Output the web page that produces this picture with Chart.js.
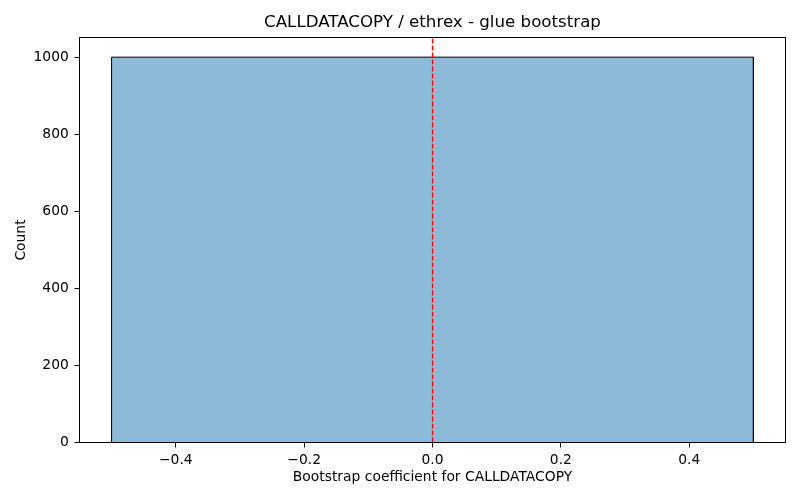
<!DOCTYPE html>
<html>
<head>
<meta charset="utf-8">
<script src="https://cdn.jsdelivr.net/npm/chart.js@4.4.1/dist/chart.umd.min.js"></script>
<style>
  html, body { margin: 0; padding: 0; background: #fff; }
  canvas { display: block; }
</style>
</head>
<body>
<canvas id="hist" width="800" height="500"></canvas>
<script>
// histogram data
const binEdges = [-0.5, 0.5]
const binCounts = [1000]
const markerX = 0.0

const xTicks = [-0.4, -0.2, 0.0, 0.2, 0.4]
const xTickLabels = ["\u22120.4", "\u22120.2", "0.0", "0.2", "0.4"]
const yTicks = [0, 200, 400, 600, 800, 1000]
const yTickLabels = ["0", "200", "400", "600", "800", "1000"]

const xMin = -0.55, xMax = 0.55
const yMin = 0, yMax = 1051

// step outline of the histogram bars
function histOutline(edges, counts) {
    var pts = []
    for (var i = 0; i < counts.length; i++) {
        pts.push({x: edges[i], y: 0})
        pts.push({x: edges[i], y: counts[i]})
        pts.push({x: edges[i + 1], y: counts[i]})
        pts.push({x: edges[i + 1], y: 0})
    }
    return pts
}

Chart.defaults.font.family = "'DejaVu Sans', sans-serif"
Chart.defaults.color = "#000"

const frameBox = {
    id: "frameBox",
    afterDatasetsDraw(chart) {
        const a = chart.chartArea
        const ctx = chart.ctx
        ctx.save()
        ctx.strokeStyle = "#000"
        ctx.lineWidth = 1
        ctx.strokeRect(a.left, a.top, a.right - a.left, a.bottom - a.top)
        ctx.restore()
    }
}

new Chart(document.getElementById("hist"), {
    type: "scatter",
    data: {
        datasets: [
            {
                data: histOutline(binEdges, binCounts),
                showLine: true,
                fill: "origin",
                backgroundColor: "rgb(142,186,217)",
                borderColor: "#000",
                borderWidth: 1,
                pointRadius: 0,
                tension: 0,
                order: 2
            },
            {
                data: [{x: markerX, y: yMin}, {x: markerX, y: yMax}],
                showLine: true,
                fill: false,
                borderColor: "#ff0000",
                borderWidth: 1.3,
                borderDash: [5, 2],
                pointRadius: 0,
                order: 1
            }
        ]
    },
    options: {
        responsive: false,
        animation: false,
        devicePixelRatio: 1,
        layout: { padding: { left: 0, right: 14.5, top: 0, bottom: 0 } },
        plugins: {
            legend: { display: false },
            tooltip: { enabled: false },
            title: {
                display: true,
                fullSize: false,
                text: "CALLDATACOPY / ethrex - glue bootstrap",
                color: "#000",
                font: { size: 16.67, weight: "normal" },
                padding: { top: 12.2, bottom: 5.3 }
            }
        },
        scales: {
            x: {
                type: "linear",
                min: xMin,
                max: xMax,
                afterBuildTicks: function(scale) {
                    scale.ticks = xTicks.map(v => ({value: v}))
                },
                afterFit: function(scale) { scale.height = 57.5 },
                ticks: {
                    callback: function(v, i) { return xTickLabels[i] },
                    font: { size: 13.89 },
                    padding: 5,
                    maxRotation: 0,
                    autoSkip: false
                },
                grid: {
                    display: true,
                    drawOnChartArea: false,
                    drawTicks: true,
                    tickLength: 5,
                    color: "#000"
                },
                border: { display: false },
                title: {
                    display: true,
                    text: "Bootstrap coefficient for CALLDATACOPY",
                    font: { size: 13.89 },
                    padding: { top: 0, bottom: 14 }
                }
            },
            y: {
                type: "linear",
                min: yMin,
                max: yMax,
                afterBuildTicks: function(scale) {
                    scale.ticks = yTicks.map(v => ({value: v}))
                },
                afterFit: function(scale) { scale.width = 79.5 },
                ticks: {
                    callback: function(v, i) { return yTickLabels[i] },
                    font: { size: 13.89 },
                    padding: 5.7,
                    autoSkip: false
                },
                grid: {
                    display: true,
                    drawOnChartArea: false,
                    drawTicks: true,
                    tickLength: 5,
                    color: "#000"
                },
                border: { display: false },
                title: {
                    display: true,
                    text: "Count",
                    font: { size: 13.89 },
                    padding: { top: 13.4, bottom: 0 }
                }
            }
        }
    },
    plugins: [frameBox]
})
</script>
</body>
</html>
